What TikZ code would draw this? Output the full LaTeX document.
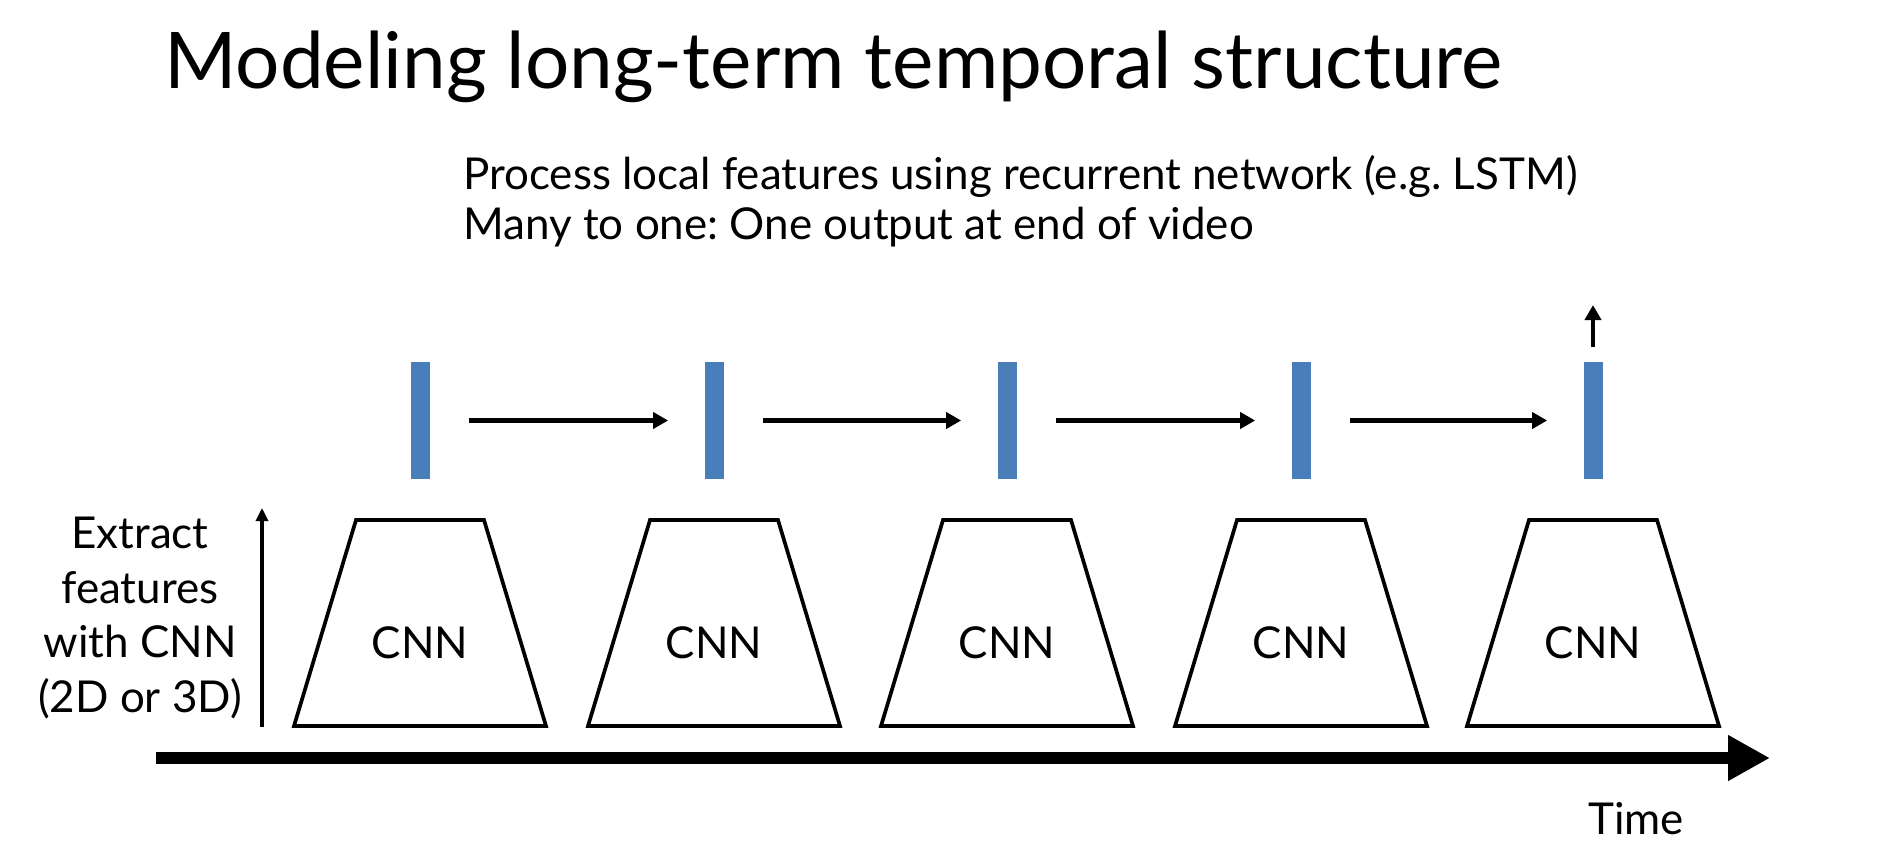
\documentclass[tikz,border=0pt]{standalone}
\usepackage{fontspec}
\setmainfont{Lato}
\usepackage{tikz}
\usetikzlibrary{arrows.meta,calc,positioning}
\frenchspacing
\definecolor{barblue}{RGB}{74,126,187}
\tikzstyle{arrow} = [line width=2.5pt,-{Triangle[length=0.3cm,width=0.32cm]}]
\tikzstyle{hidden} = [fill=barblue, minimum width=0.38cm, minimum height=2.34cm, inner sep=0]
\tikzstyle{cnnbox} = [draw, line width=2.1pt, line join=miter]
\tikzstyle{body} = [font=\fontsize{25}{29}\selectfont, inner sep=0]

\begin{document}
\begin{tikzpicture}
\useasboundingbox (0,0) rectangle (37.56,17.28);
% Title and notes
\node[anchor=base west, inner sep=0, font=\fontsize{44.5}{53}\selectfont] (title) at (3.28,15.50) {Modeling long-term temporal structure};
\node[body, anchor=base west, align=left] (notes) at (9.26,12.48) {Process local features using recurrent network (e.g. LSTM)\\Many to one: One output at end of video};

% Hidden states
\node[hidden] (h1) at (8.40,8.87) {};
\node[hidden] (h2) at (14.28,8.87) {};
\node[hidden] (h3) at (20.14,8.87) {};
\node[hidden] (h4) at (26.02,8.87) {};
\node[hidden] (h5) at (31.86,8.87) {};
\draw[arrow, shorten <=0.79cm, shorten >=0.72cm] (h1) -- (h2);
\draw[arrow, shorten <=0.79cm, shorten >=0.72cm] (h2) -- (h3);
\draw[arrow, shorten <=0.79cm, shorten >=0.72cm] (h3) -- (h4);
\draw[arrow, shorten <=0.79cm, shorten >=0.72cm] (h4) -- (h5);
\coordinate (out) at (31.86,11.18);
\draw[arrow, shorten <=0.3cm] (h5) -- (out);

% CNNs
\node[body] (c1) at (8.40,4.42) {CNN};
\node[body] (c2) at (14.28,4.42) {CNN};
\node[body] (c3) at (20.14,4.42) {CNN};
\node[body] (c4) at (26.02,4.42) {CNN};
\node[body] (c5) at (31.86,4.42) {CNN};
\draw[cnnbox] ($(c1)+(-2.52,-1.66)$) -- ($(c1)+(2.52,-1.66)$) -- ($(c1)+(1.28,2.46)$) -- ($(c1)+(-1.28,2.46)$) -- cycle;
\draw[cnnbox] ($(c2)+(-2.52,-1.66)$) -- ($(c2)+(2.52,-1.66)$) -- ($(c2)+(1.28,2.46)$) -- ($(c2)+(-1.28,2.46)$) -- cycle;
\draw[cnnbox] ($(c3)+(-2.52,-1.66)$) -- ($(c3)+(2.52,-1.66)$) -- ($(c3)+(1.28,2.46)$) -- ($(c3)+(-1.28,2.46)$) -- cycle;
\draw[cnnbox] ($(c4)+(-2.52,-1.66)$) -- ($(c4)+(2.52,-1.66)$) -- ($(c4)+(1.28,2.46)$) -- ($(c4)+(-1.28,2.46)$) -- cycle;
\draw[cnnbox] ($(c5)+(-2.52,-1.66)$) -- ($(c5)+(2.52,-1.66)$) -- ($(c5)+(1.28,2.46)$) -- ($(c5)+(-1.28,2.46)$) -- cycle;

% Feature axis
\node[body, font=\fontsize{25}{31}\selectfont, align=center, anchor=base] (extract) at (2.80,3.04) {Extract\\features\\with CNN\\(2D or 3D)};
\coordinate (fb) at (5.24,2.74);
\coordinate (ft) at (5.24,7.12);
\draw[line width=1.8pt, -{Triangle[length=0.26cm,width=0.24cm]}] (fb) -- (ft);

% Time axis
\coordinate (t0) at (3.12,2.12);
\coordinate (t1) at (35.40,2.12);
\draw[line width=0.24cm, -{Triangle[length=0.84cm,width=0.86cm]}] (t0) -- (t1);
\node[body, anchor=base] (time) at (32.72,0.60) {Time};
\end{tikzpicture}
\end{document}
